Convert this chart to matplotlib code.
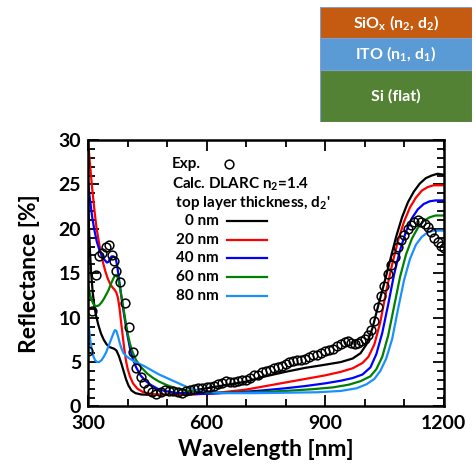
import numpy as np
import matplotlib
matplotlib.use("Agg")
import matplotlib.pyplot as plt

plt.rcParams['font.family'] = ['Lato', 'DejaVu Sans']
plt.rcParams['font.weight'] = 'bold'
plt.rcParams['mathtext.fontset'] = 'custom'
plt.rcParams['mathtext.rm'] = 'Lato:bold'
plt.rcParams['mathtext.bf'] = 'Lato:bold'
plt.rcParams['mathtext.it'] = 'Lato:bold'
plt.rcParams['mathtext.default'] = 'bf'

# experimental reflectance
exp_wl = [300, 311, 320, 327, 336, 346, 353, 361, 367, 372, 381, 394, 404, 413, 422, 433,
          443, 453, 463, 473, 484, 494, 505, 516, 527, 537, 548, 558, 568, 579, 589, 600,
          610, 620, 630, 640, 650, 660, 670, 680, 690, 700, 710, 720, 730, 740, 750, 760,
          770, 780, 790, 800, 810, 820, 830, 840, 850, 860, 870, 880, 890, 900, 910, 920,
          930, 940, 950, 958, 967, 975, 984, 992, 1000, 1008, 1017, 1025, 1034, 1042, 1050,
          1059, 1068, 1076, 1084, 1093, 1101, 1110, 1118, 1126, 1135, 1143, 1152, 1160,
          1168, 1177, 1185, 1193, 1200]
exp_R = [6.2, 10.8, 14.8, 16.9, 17.3, 18.0, 18.2, 17.0, 16.4, 15.3, 14.0, 11.7, 8.9, 6.1, 4.3, 3.3,
         2.6, 2.0, 1.6, 1.4, 1.6, 1.8, 1.7, 1.7, 1.6, 1.5, 1.7, 1.8, 2.0, 2.1, 2.1, 2.2,
         2.2, 2.3, 2.5, 2.6, 2.9, 2.7, 2.8, 2.9, 3.0, 3.0, 3.2, 3.5, 3.6, 3.9, 4.0, 4.1,
         4.3, 4.5, 4.6, 4.8, 5.0, 5.1, 5.2, 5.2, 5.4, 5.6, 5.75, 5.8, 6.0, 6.3, 6.4, 6.5,
         6.8, 7.0, 7.3, 7.4, 7.1, 7.0, 7.2, 7.4, 7.6, 8.0, 8.6, 9.6, 11.2, 12.4, 13.6,
         14.9, 15.9, 16.8, 18.0, 18.7, 19.3, 20.0, 20.4, 20.8, 21.0, 20.8, 20.5, 20.2,
         19.6, 19.0, 18.5, 18.1, 17.8]

# calculated, top layer 0 nm
wl_0 = [300, 302, 305, 308, 312, 316, 320, 326, 333, 340, 347, 354, 360, 366, 372, 378, 384,
        390, 396, 402, 410, 420, 435, 460, 500, 540, 580, 620, 660, 700, 750, 800, 850,
        900, 940, 970, 990, 1005, 1020, 1035, 1050, 1065, 1080, 1095, 1110, 1125, 1140,
        1155, 1170, 1185, 1200]
R_0 = [23.5, 20.5, 17.5, 15.0, 12.8, 11.3, 10.3, 9.2, 8.2, 7.5, 7.0, 6.7, 6.6, 6.5, 6.3, 5.7, 4.9,
       4.0, 3.1, 2.4, 1.8, 1.5, 1.35, 1.3, 1.3, 1.5, 1.9, 2.2, 2.5, 2.8, 3.4, 3.9, 4.35,
       4.7, 5.0, 5.4, 6.0, 7.0, 8.8, 11.4, 13.9, 16.5, 19.1, 21.3, 23.0, 24.2, 25.1,
       25.7, 26.0, 26.2, 26.1]

# 20 nm
wl_20 = [300, 304, 307, 310, 313, 317, 321, 326, 332, 338, 344, 350, 356, 362, 368, 372, 376,
         380, 384, 388, 392, 396, 400, 406, 414, 425, 440, 460, 500, 550, 600, 650, 700,
         750, 800, 850, 900, 940, 970, 995, 1010, 1025, 1040, 1055, 1070, 1085, 1100,
         1115, 1130, 1145, 1160, 1175, 1190, 1200]
R_20 = [29.8, 27.8, 26.3, 24.8, 23.5, 21.8, 20.3, 18.9, 17.4, 16.2, 15.2, 14.4, 13.8, 13.4, 13.1,
        12.8, 12.2, 11.0, 9.4, 7.9, 6.4, 5.2, 4.3, 3.4, 2.6, 2.0, 1.6, 1.4, 1.3, 1.3, 1.45,
        1.65, 1.9, 2.3, 2.7, 3.1, 3.5, 3.9, 4.3, 4.9, 5.6, 7.0, 9.5, 13.0, 16.0, 18.7, 20.8,
        22.4, 23.5, 24.3, 24.7, 24.9, 24.9, 24.9]

# 40 nm
wl_40 = [300, 303, 307, 311, 316, 322, 329, 336, 342, 348, 352, 356, 360, 364, 368, 371, 374,
         378, 382, 386, 390, 395, 400, 406, 413, 422, 433, 445, 460, 480, 500, 530, 570,
         620, 680, 740, 800, 850, 900, 940, 970, 995, 1015, 1030, 1045, 1060, 1075, 1090,
         1105, 1120, 1135, 1150, 1165, 1180, 1200]
R_40 = [25.3, 24.0, 22.6, 21.2, 19.9, 18.6, 17.6, 16.9, 16.5, 16.2, 16.3, 16.7, 16.9, 16.9, 16.8,
        16.5, 15.8, 14.5, 13.2, 11.9, 10.7, 9.3, 8.0, 6.6, 5.4, 4.4, 3.5, 2.9, 2.4, 1.9, 1.7,
        1.5, 1.4, 1.45, 1.6, 1.8, 2.05, 2.3, 2.6, 2.9, 3.2, 3.6, 4.4, 5.9, 8.3, 11.5, 14.9,
        17.6, 19.7, 21.2, 22.2, 22.8, 23.1, 23.2, 23.2]

# 60 nm
wl_60 = [300, 304, 308, 313, 318, 323, 328, 334, 340, 346, 352, 358, 364, 369, 373, 377, 381,
         385, 390, 395, 400, 406, 413, 422, 435, 450, 465, 480, 500, 525, 550, 590, 650,
         720, 800, 870, 920, 960, 990, 1015, 1030, 1045, 1060, 1075, 1090, 1105, 1120,
         1135, 1150, 1165, 1180, 1200]
R_60 = [13.8, 12.8, 12.1, 11.6, 11.3, 11.3, 11.4, 11.7, 12.1, 12.6, 13.1, 13.8, 14.4, 14.8, 14.8,
        14.2, 13.3, 12.3, 11.0, 9.6, 8.3, 7.1, 6.1, 5.2, 4.4, 3.7, 3.2, 2.8, 2.4, 2.0, 1.8,
        1.6, 1.55, 1.6, 1.75, 1.95, 2.15, 2.45, 2.85, 3.4, 4.2, 5.6, 8.0, 11.3, 14.6, 17.1,
        18.9, 20.1, 20.9, 21.3, 21.5, 21.5]

# 80 nm
wl_80 = [300, 303, 306, 310, 314, 318, 323, 328, 334, 340, 346, 352, 358, 364, 368, 372, 376,
         380, 385, 390, 396, 405, 420, 440, 460, 480, 500, 520, 540, 560, 580, 600, 650,
         720, 800, 880, 940, 980, 1005, 1025, 1040, 1055, 1070, 1085, 1100, 1115, 1130,
         1145, 1160, 1175, 1200]
R_80 = [9.9, 8.6, 7.4, 6.3, 5.6, 5.2, 5.0, 5.0, 5.2, 5.6, 6.1, 6.8, 7.5, 8.2, 8.6, 8.5, 7.9,
        7.2, 6.5, 6.0, 5.7, 5.4, 5.0, 4.6, 4.1, 3.6, 3.2, 2.8, 2.4, 2.0, 1.8, 1.65, 1.5,
        1.5, 1.55, 1.6, 1.75, 2.05, 2.5, 3.1, 4.0, 5.4, 7.6, 11.0, 14.2, 16.6, 18.2,
        19.1, 19.6, 19.8, 19.8]

calc_labels = ['0 nm', '20 nm', '40 nm', '60 nm', '80 nm']
calc_colors = ['black', '#ff0000', '#0000ff', '#008000', '#1a90ff']
calc_wl = [wl_0, wl_20, wl_40, wl_60, wl_80]
calc_R = [R_0, R_20, R_40, R_60, R_80]

layer_names = ['Si (flat)', 'ITO (n$_1$, d$_1$)', 'SiO$_x$ (n$_2$, d$_2$)']
layer_colors = ['#548235', '#5b9bd5', '#c55a11']
layer_heights = [52, 32, 31]

fig = plt.figure(figsize=(4.77, 4.67), dpi=100)
ax = fig.add_axes([0.1845, 0.1296, 0.7453, 0.5706])

for w, r, c in zip(calc_wl, calc_R, calc_colors):
    ax.plot(w, r, color=c, lw=1.6, zorder=2)
ax.plot(exp_wl, exp_R, 'o', mfc='none', mec='black', ms=6.3, mew=1.1, zorder=3)

ax.set_xlim(300, 1200)
ax.set_ylim(0, 30)
ax.set_xticks([300, 600, 900, 1200])
ax.set_xticks(np.arange(300, 1201, 100), minor=True)
ax.set_yticks(np.arange(0, 31, 5))
ax.set_yticks(np.arange(0, 31, 1), minor=True)
ax.tick_params(which='both', direction='in', top=True, right=True, width=1.3)
ax.tick_params(which='major', length=8, labelsize=14)
ax.tick_params(axis='x', which='major', pad=6)
ax.tick_params(axis='y', which='major', pad=5)
ax.tick_params(which='minor', length=5)
for s in ax.spines.values():
    s.set_linewidth(1.8)
ax.set_xlabel('Wavelength [nm]', fontsize=16.5, fontweight='bold', labelpad=5)
ax.set_ylabel('Reflectance [%]', fontsize=16.5, fontweight='bold', labelpad=13)

# legend written as text lines
fs = 11
ax.text(0.236, 0.91, 'Exp.', transform=ax.transAxes, fontsize=fs, va='center', ha='left')
ax.plot([0.397], [0.91], 'o', mfc='none', mec='black', ms=6.3, mew=1.1, transform=ax.transAxes)
ax.text(0.236, 0.835, 'Calc. DLARC n$_2$=1.4', transform=ax.transAxes, fontsize=fs, va='center', ha='left')
ax.text(0.236, 0.762, ' top layer thickness, d$_2$\'', transform=ax.transAxes, fontsize=fs, va='center', ha='left')
for i, (lab, c) in enumerate(zip(calc_labels, calc_colors)):
    yy = 0.696 - i * 0.0702
    ax.text(0.368, yy, lab, transform=ax.transAxes, fontsize=fs, va='center', ha='right')
    ax.plot([0.391, 0.503], [yy, yy], color=c, lw=1.6, transform=ax.transAxes)

# layer stack sketch
ax2 = fig.add_axes([320 / 477, (467 - 122) / 467, 152 / 477, 115 / 467])
ax2.set_xlim(0, 1)
ax2.set_ylim(0, sum(layer_heights))
ax2.axis('off')
bottom = 0
for name, col, h in zip(layer_names, layer_colors, layer_heights):
    ax2.add_patch(plt.Rectangle((0, bottom), 1, h, facecolor=col, edgecolor='#7f9fcf', lw=0.8))
    ax2.text(0.5, bottom + h / 2, name, ha='center', va='center', color='white',
             fontsize=11.5, fontweight='bold')
    bottom += h

fig.savefig('out.png', dpi=100)
